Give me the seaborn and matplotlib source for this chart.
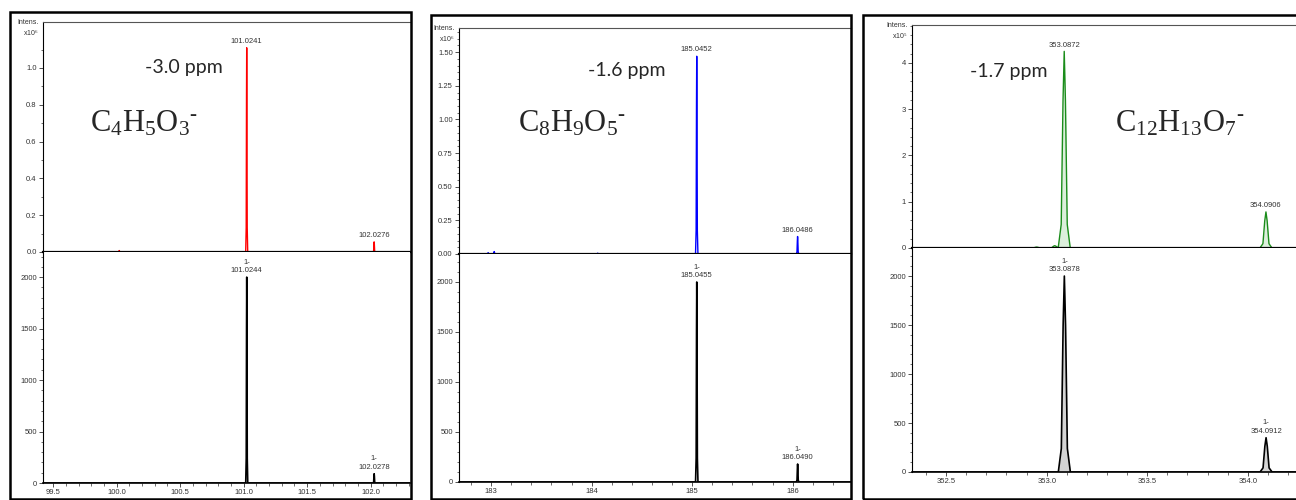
import numpy as np
import pandas as pd
import matplotlib
matplotlib.use('Agg')
import matplotlib.pyplot as plt
from matplotlib.patches import Rectangle
from matplotlib.ticker import MultipleLocator, FixedLocator, FormatStrFormatter
import seaborn as sns

# ---- dados: picos medidos (x10^n) e simulados ----
p1_mz = [101.0241, 102.0276]
p1_int = [1.11, 0.055]
p1_noise_mz = [100.02]
p1_noise_int = [0.008]
p1_sim_mz = [101.0244, 102.0278]
p1_sim_int = [2000, 90]

p2_mz = [185.0452, 186.0486]
p2_int = [1.47, 0.13]
p2_noise_mz = [182.97, 183.03, 184.06]
p2_noise_int = [0.01, 0.018, 0.006]
p2_sim_mz = [185.0455, 186.0490]
p2_sim_int = [2000, 180]

p3_mz = [353.0872, 354.0906]
p3_int = [4.25, 0.78]
p3_noise_mz = [352.95, 353.04]
p3_noise_int = [0.02, 0.05]
p3_sim_mz = [353.0878, 354.0912]
p3_sim_int = [2000, 350]

formulas = [r'$\mathrm{C_4H_5O_3}^{\text{-}}$', r'$\mathrm{C_8H_9O_5}^{\text{-}}$',
            r'$\mathrm{C_{12}H_{13}O_7}^{\text{-}}$']
ppm_labels = ['-3.0 ppm', '-1.6 ppm', '-1.7 ppm']
exponents = [6, 6, 5]

sns.set_style('ticks')
plt.rcParams['font.family'] = ['Liberation Sans', 'DejaVu Sans']
plt.rcParams['mathtext.fontset'] = 'custom'
plt.rcParams['mathtext.rm'] = 'Liberation Serif'
plt.rcParams['mathtext.it'] = 'Liberation Serif:italic'

W, H = 1296, 500
fig = plt.figure(figsize=(W / 100, H / 100), dpi=100)


def px_axes(x0, y0, x1, y1):
    return fig.add_axes([x0 / W, 1 - y1 / H, (x1 - x0) / W, (y1 - y0) / H])


# forma do pico (perfil aproximado)
shape_off = [-1, -0.5, -0.2, 0, 0.2, 0.5, 1]
shape_frac = [0, 0.12, 0.75, 1, 0.75, 0.12, 0]


def perfil(mz, inten, hw, xlim):
    pts = [(xlim[0], 0.0)]
    for m, h in sorted(zip(mz, inten)):
        for o, f in zip(shape_off, shape_frac):
            pts.append((m + o * hw, h * f))
    pts.append((xlim[1], 0.0))
    return pd.DataFrame(pts, columns=['mz', 'intens'])


paineis = [
    dict(box=(10, 12, 411, 499), top=(43, 22, 410, 252), bot=(43, 252, 410, 483),
         xlim=(99.42, 102.31), ylim_top=(0, 1.25), ylim_bot=(0, 2244),
         ymaj=0.2, ymin=0.1, ytop_tick=1.1, yfmt='%.1f', xmaj=0.5, xmin=0.1, xfmt='%.1f',
         mz=p1_mz, it=p1_int, nmz=p1_noise_mz, nit=p1_noise_int,
         smz=p1_sim_mz, sit=p1_sim_int, cor='#ff0000', hw=0.008, fill=None, sfill=None,
         ppm=(145, 73), form=(90, 131)),
    dict(box=(431, 15, 851, 499), top=(459, 28, 851, 254), bot=(459, 254, 851, 482),
         xlim=(182.68, 186.58), ylim_top=(0, 1.68), ylim_bot=(0, 2280),
         ymaj=0.25, ymin=0.05, ytop_tick=1.65, yfmt='%.2f', xmaj=1, xmin=0.2, xfmt='%d',
         mz=p2_mz, it=p2_int, nmz=p2_noise_mz, nit=p2_noise_int,
         smz=p2_sim_mz, sit=p2_sim_int, cor='#0000ff', hw=0.012, fill=None, sfill=None,
         ppm=(588, 76), form=(518, 132)),
    dict(box=(863, 15, 1310, 499), top=(912, 25, 1300, 248), bot=(912, 248, 1300, 472),
         xlim=(352.33, 354.26), ylim_top=(0, 4.82), ylim_bot=(0, 2286),
         ymaj=1, ymin=0.2, ytop_tick=4.8, yfmt='%d', xmaj=0.5, xmin=0.1, xfmt='%.1f',
         mz=p3_mz, it=p3_int, nmz=p3_noise_mz, nit=p3_noise_int,
         smz=p3_sim_mz, sit=p3_sim_int, cor='#1a8c1a', hw=0.03, fill='#dcefdc', sfill='#d4d4d4',
         ppm=(970, 77), form=(1115, 132)),
]

for i, p in enumerate(paineis):
    x0, y0, x1, y1 = p['box']
    fig.patches.append(Rectangle((x0 / W, 1 - y1 / H), (x1 - x0) / W, (y1 - y0) / H,
                                 transform=fig.transFigure, fill=False, lw=1.8, ec='black', zorder=5))

    ax_t = px_axes(*p['top'])
    ax_b = px_axes(*p['bot'])

    # espectro medido
    df_m = perfil(p['mz'] + p['nmz'], p['it'] + p['nit'], p['hw'], p['xlim'])
    if p['fill']:
        ax_t.fill_between(df_m['mz'], df_m['intens'], color=p['fill'], lw=0)
    sns.lineplot(x='mz', y='intens', data=df_m, ax=ax_t, color=p['cor'], lw=1.0,
                 estimator=None, sort=False)

    # espectro simulado
    df_s = perfil(p['smz'], p['sit'], p['hw'], p['xlim'])
    if p['sfill']:
        ax_b.fill_between(df_s['mz'], df_s['intens'], color=p['sfill'], lw=0)
    sns.lineplot(x='mz', y='intens', data=df_s, ax=ax_b, color='black', lw=1.2,
                 estimator=None, sort=False)

    for m, h in zip(p['mz'], p['it']):
        ax_t.annotate(f'{m:.4f}', (m, h), xytext=(0, 2), textcoords='offset points',
                      ha='center', va='bottom', fontsize=5.5, color='#333333')
    for m, h in zip(p['smz'], p['sit']):
        ax_b.annotate(f'1-\n{m:.4f}', (m, h), xytext=(0, 2), textcoords='offset points',
                      ha='center', va='bottom', fontsize=5.5, color='#333333', linespacing=1.3)

    for ax in (ax_t, ax_b):
        ax.set_xlim(*p['xlim'])
        ax.set_xlabel('')
        ax.set_ylabel('')
        ax.set_facecolor('white')
        ax.tick_params(which='major', length=3, width=0.6, labelsize=5.5, colors='#333333', pad=1.5)
        ax.tick_params(which='minor', length=1.8, width=0.5, colors='#333333')
        ax.spines['left'].set_linewidth(0.8)
        ax.spines['left'].set_color('black')

    ax_t.set_ylim(*p['ylim_top'])
    ax_t.yaxis.set_major_locator(FixedLocator(np.arange(0, p['ytop_tick'] + 1e-9, p['ymaj'])))
    ax_t.yaxis.set_minor_locator(FixedLocator(np.arange(0, p['ytop_tick'] + 1e-9, p['ymin'])))
    ax_t.yaxis.set_major_formatter(FormatStrFormatter(p['yfmt']))
    ax_t.set_xticks([])
    ax_t.spines['bottom'].set_linewidth(1.6)
    ax_t.spines['bottom'].set_color('black')
    ax_t.spines['top'].set_visible(True)
    ax_t.spines['top'].set_linewidth(0.8)
    ax_t.spines['top'].set_color('#555555')
    ax_t.spines['right'].set_visible(False)
    ax_t.annotate(f'Intens.\nx10$^{{{exponents[i]}}}$', (0, 1), xycoords='axes fraction',
                  xytext=(-3, 2), textcoords='offset points',
                  ha='right', va='top', fontsize=5, color='#333333', linespacing=1.4)

    ax_b.set_ylim(*p['ylim_bot'])
    ax_b.yaxis.set_major_locator(MultipleLocator(500))
    ax_b.yaxis.set_minor_locator(MultipleLocator(100))
    ax_b.xaxis.set_major_locator(MultipleLocator(p['xmaj']))
    ax_b.xaxis.set_minor_locator(MultipleLocator(p['xmin']))
    ax_b.xaxis.set_major_formatter(FormatStrFormatter(p['xfmt']))
    ax_b.spines['top'].set_visible(False)
    ax_b.spines['right'].set_visible(False)
    ax_b.spines['bottom'].set_linewidth(1.2)
    ax_b.spines['bottom'].set_color('black')

    fig.text(p['ppm'][0] / W, 1 - p['ppm'][1] / H, ppm_labels[i], fontsize=14,
             family=['Lato', 'DejaVu Sans'], ha='left', va='baseline')
    fig.text(p['form'][0] / W, 1 - p['form'][1] / H, formulas[i], fontsize=22,
             ha='left', va='baseline')

fig.savefig('out.png', dpi=100, facecolor='white')
